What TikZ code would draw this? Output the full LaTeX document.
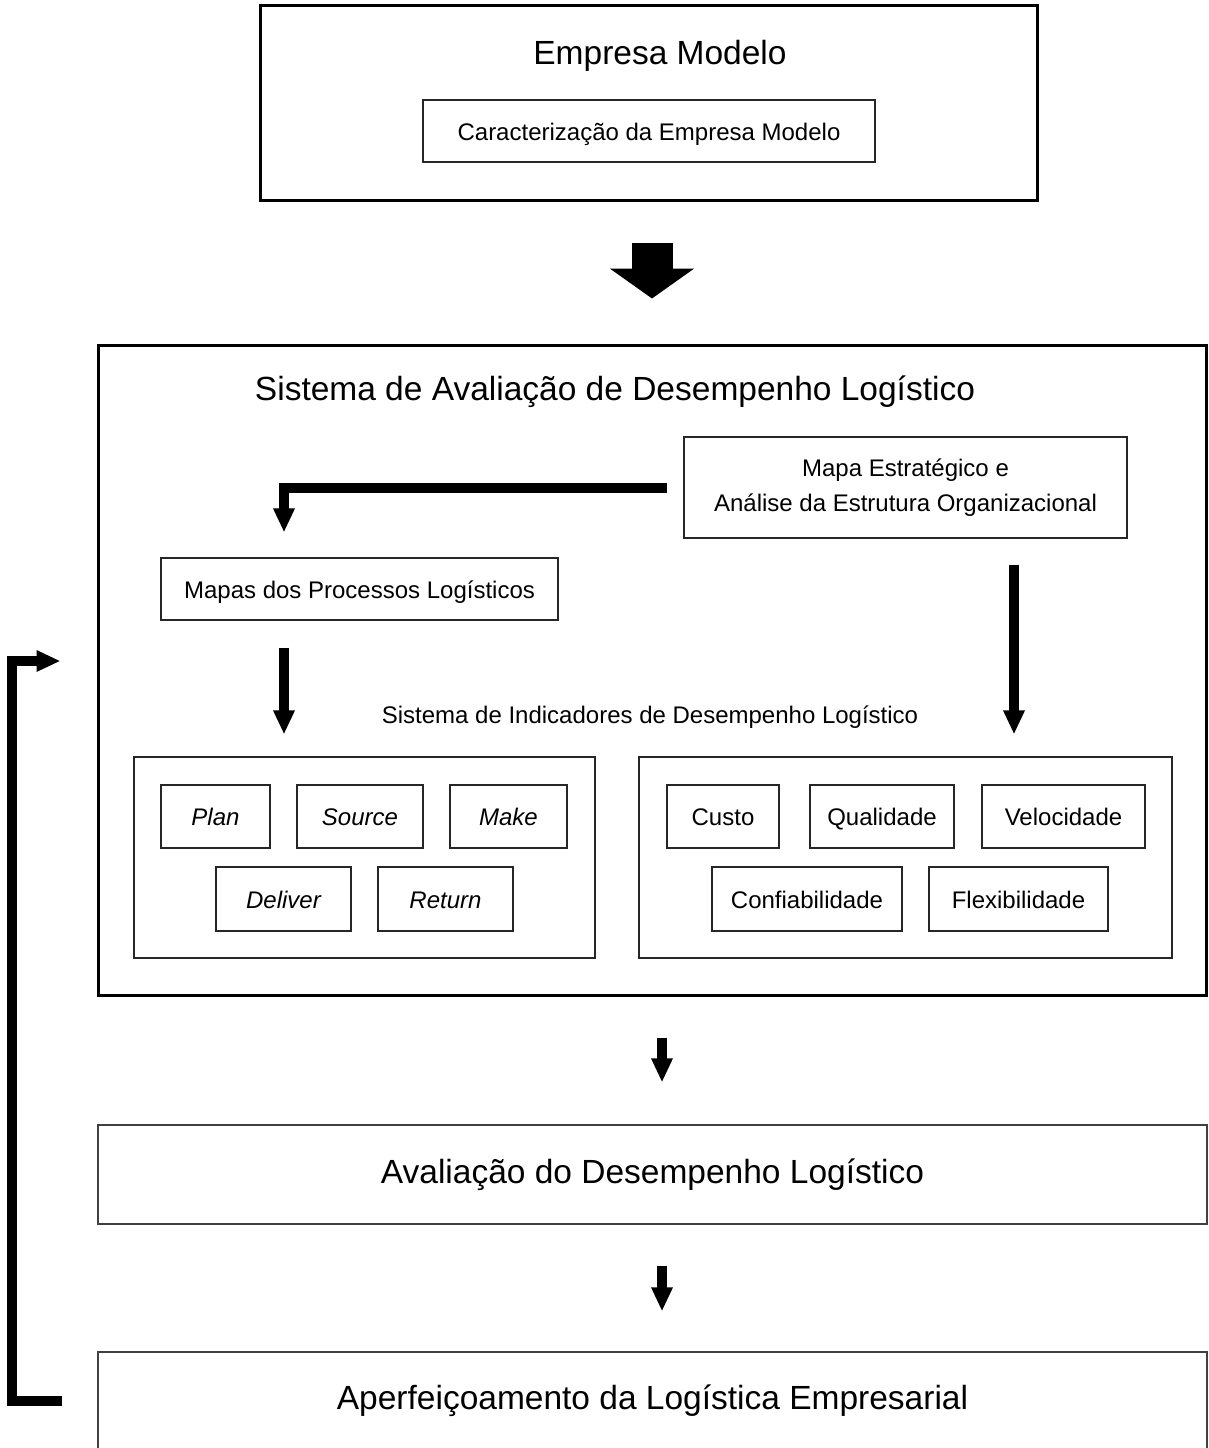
\documentclass[tikz,border=0pt]{standalone}
\usepackage{fontspec}
\setmainfont{Liberation Sans}
\usetikzlibrary{arrows.meta}
\begin{document}
\begin{tikzpicture}[x=1pt,y=-1pt,
  big/.style={font=\fontsize{33.5}{40}\selectfont},
  small/.style={font=\fontsize{24}{35}\selectfont},
  frame/.style={draw=black, line width=3pt, inner sep=0pt},
  box/.style={draw=black!85, line width=1.2pt, inner sep=0pt, small, align=center},
  onebox/.style={box, text height=22pt, text depth=4pt},
  itbox/.style={onebox, font=\fontsize{24}{35}\selectfont\itshape},
  widebox/.style={draw=black!75, line width=1.3pt, inner sep=0pt, big},
  flow/.style={line width=10pt, line join=miter, -{Triangle[width=20pt,length=24pt]}},
  bigflow/.style={line width=41pt, -{Triangle[width=83pt,length=30pt]}}]
\useasboundingbox (0,0) rectangle (1208,1448);
\clip (0,0) rectangle (1208,1448);

% top block
\node[frame, minimum width=777pt, minimum height=195pt] (top) at (648.5,102.5) {};
\node[big] (toptitle) at (660,56) {Empresa Modelo};
\node[onebox, minimum width=452pt, minimum height=62pt] (carac) at (649,131) {Caracterização da Empresa Modelo};

% evaluation system block
\node[frame, minimum width=1108pt, minimum height=650pt] (sys) at (652,670) {};
\node[big] (systitle) at (615,392) {Sistema de Avaliação de Desempenho Logístico};
\node[box, minimum width=443pt, minimum height=101pt] (mapa) at (905.5,487.5)
  {Mapa Estratégico e\\Análise da Estrutura Organizacional};
\node[onebox, minimum width=397pt, minimum height=62pt] (mapas) at (359.5,589) {Mapas dos Processos Logísticos};
\node[small] (indic) at (650,717) {Sistema de Indicadores de Desempenho Logístico};

% process groups
\node[box, minimum width=461pt, minimum height=201pt] (grpL) at (364.5,857.5) {};
\node[box, minimum width=533pt, minimum height=201pt] (grpR) at (905.5,857.5) {};

\node[itbox, minimum width=109pt, minimum height=63pt] (plan) at (215.5,816.5) {Plan};
\node[itbox, minimum width=126pt, minimum height=63pt] (source) at (360,816.5) {Source};
\node[itbox, minimum width=117pt, minimum height=63pt] (make) at (508.5,816.5) {Make};
\node[itbox, minimum width=135pt, minimum height=64pt] (deliver) at (283.5,899) {Deliver};
\node[itbox, minimum width=135pt, minimum height=64pt] (return) at (445.5,899) {Return};

\node[onebox, minimum width=112pt, minimum height=63pt] (custo) at (723,816.5) {Custo};
\node[onebox, minimum width=144pt, minimum height=63pt] (qual) at (882,816.5) {Qualidade};
\node[onebox, minimum width=163pt, minimum height=63pt] (veloc) at (1063.5,816.5) {Velocidade};
\node[onebox, minimum width=190pt, minimum height=64pt] (confi) at (807,899) {Confiabilidade};
\node[onebox, minimum width=179pt, minimum height=64pt] (flexi) at (1018.5,899) {Flexibilidade};

% result blocks
\node[widebox, minimum width=1109pt, minimum height=99pt] (aval) at (652.5,1174.5) {Avaliação do Desempenho Logístico};
\node[widebox, minimum width=1109pt, minimum height=98pt] (aperf) at (652.5,1401) {Aperfeiçoamento da Logística Empresarial};

% connector columns
\coordinate (lx) at (284,0);
\coordinate (rx) at (1014,0);
\coordinate (sx) at (662,0);
\coordinate (fbx) at (12,0);

% connectors
\draw[bigflow, shorten <=41pt, shorten >=45pt] (top.south -| sys.north) -- (sys.north);
\draw[flow, shorten <=16pt, shorten >=25pt] (mapa.west) -| (mapas.north -| lx);
\draw[flow, shorten <=27pt, shorten >=22pt] (mapas.south -| lx) -- (grpL.north -| lx);
\draw[flow, shorten <=26pt, shorten >=22pt] (mapa.south -| rx) -- (grpR.north -| rx);
\draw[flow, shorten <=41pt, shorten >=42pt] (sys.south -| sx) -- (aval.north -| sx);
\draw[flow, shorten <=41pt, shorten >=40pt] (aval.south -| sx) -- (aperf.north -| sx);
\draw[flow, shorten <=35pt, shorten >=36pt] (aperf.west) -- (aperf.west -| fbx) |- ([yshift=9pt]sys.west);
\end{tikzpicture}
\end{document}
